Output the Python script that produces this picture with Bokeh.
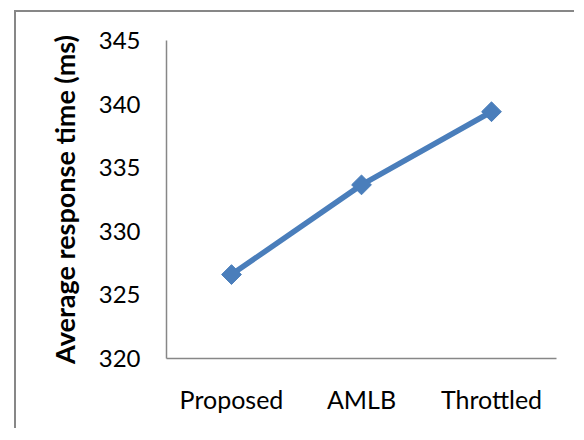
from bokeh.plotting import figure
from bokeh.models import FactorRange, Range1d, FixedTicker
from bokeh.embed import file_html
from bokeh.resources import INLINE
import math

categories = ["Proposed", "AMLB", "Throttled"]
response_ms = [326.6, 333.65, 339.4]
y_ticks = [320, 325, 330, 335, 340, 345]

FONT = "Lato"
GRAY = "#878787"
BLUE = "#4A7EBB"

p = figure(
    x_range=FactorRange(*categories),
    y_range=Range1d(320, 345),
    output_backend="svg",
    toolbar_location=None,
    frame_width=390,
    frame_height=318,
    min_border_left=150,
    min_border_top=28,
    min_border_right=18,
    min_border_bottom=70,
)
p.styles = {
    "margin-left": "14px",
    "margin-top": "10px",
    "border-top": f"2px solid {GRAY}",
    "border-left": f"2px solid {GRAY}",
}

p.outline_line_color = None
p.xgrid.grid_line_color = None
p.ygrid.grid_line_color = None
p.background_fill_color = "white"
p.border_fill_color = "white"

p.line(x=categories, y=response_ms, line_color=BLUE, line_width=5.5)
p.scatter(x=categories, y=response_ms, marker="square", size=14, angle=math.pi / 4,
          fill_color=BLUE, line_color=BLUE)

p.yaxis.ticker = FixedTicker(ticks=y_ticks)
for ax in (p.xaxis[0], p.yaxis[0]):
    ax.axis_line_color = GRAY
    ax.axis_line_width = 1.5
    ax.major_tick_line_color = None
    ax.minor_tick_line_color = None
    ax.major_tick_out = 0
    ax.major_tick_in = 0
    ax.minor_tick_out = 0
    ax.major_label_text_font = FONT
    ax.major_label_text_color = "black"

p.yaxis.major_label_text_font_size = "24px"
p.xaxis.major_label_text_font_size = "25px"
p.yaxis.major_label_standoff = 26
p.xaxis.major_label_standoff = 25
p.yaxis.axis_label = "Average response time (ms)"
p.yaxis.axis_label_text_font = FONT
p.yaxis.axis_label_text_font_style = "bold"
p.yaxis.axis_label_text_font_size = "27px"
p.yaxis.axis_label_text_color = "black"
p.yaxis.axis_label_standoff = 15

open("out.html", "w").write(file_html(p, INLINE))
